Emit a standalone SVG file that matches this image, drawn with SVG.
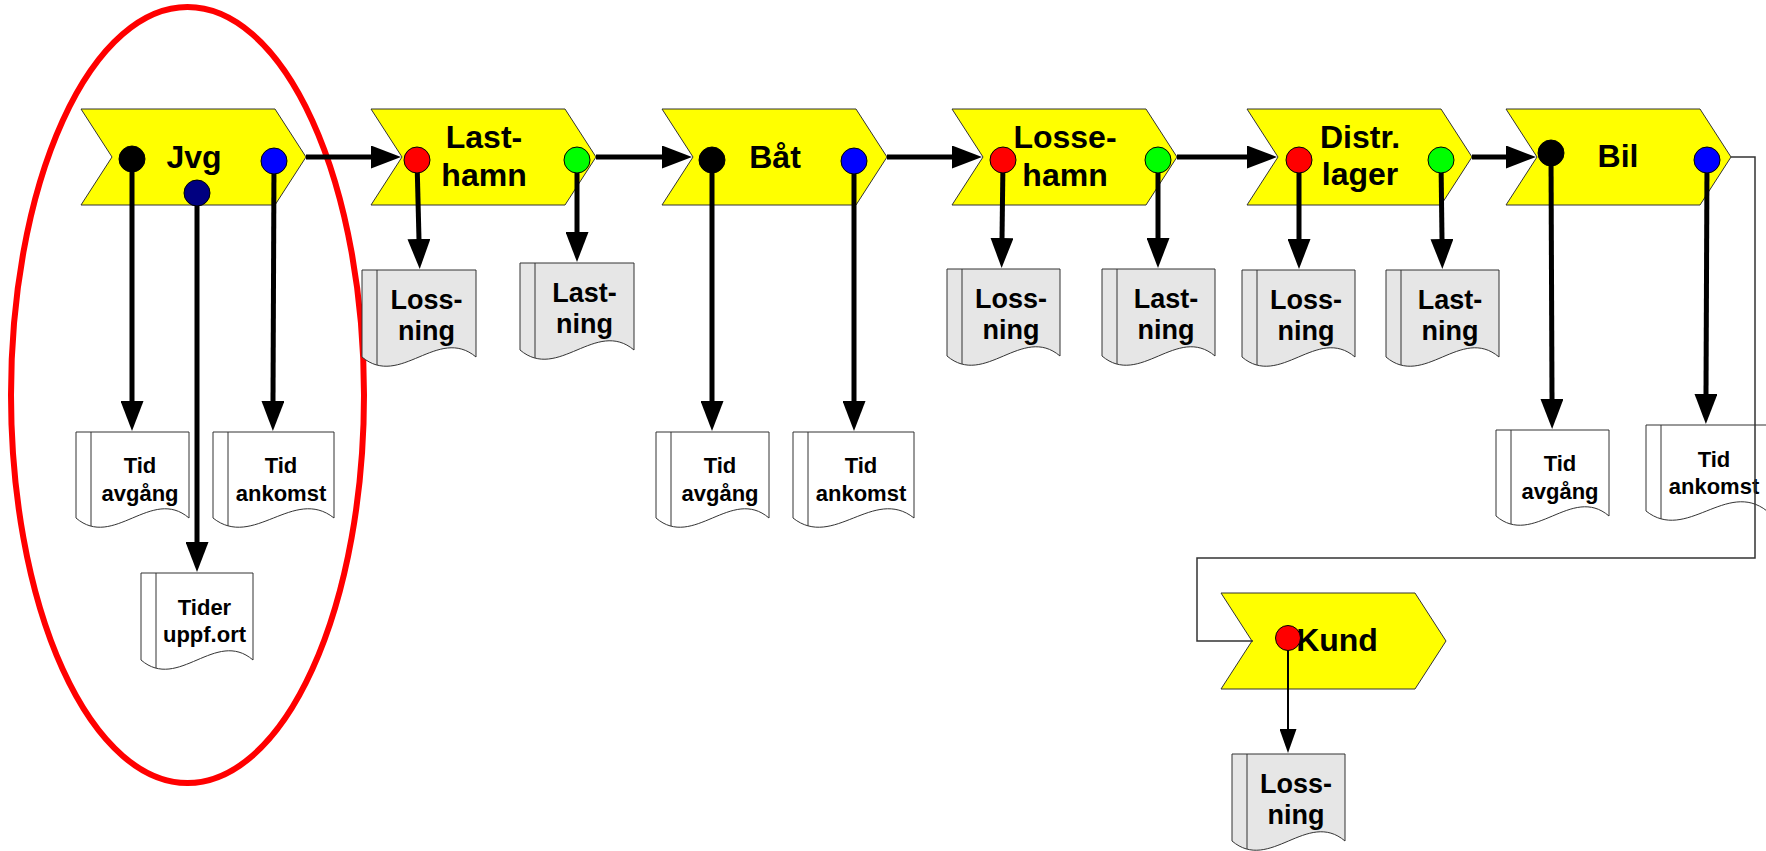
<svg xmlns="http://www.w3.org/2000/svg" width="1766" height="851" viewBox="0 0 1766 851">
<style>
.chev{fill:#ffff00;stroke:#333;stroke-width:1}
.doc{fill:#fff;stroke:#333;stroke-width:1}
.gdoc{fill:#e6e6e6;stroke:#333;stroke-width:1}
.strip{fill:none;stroke:#333;stroke-width:1}
.ct{font-family:"Liberation Sans",Arial,sans-serif;font-weight:bold;font-size:32px;text-anchor:middle;fill:#000}
.tt{font-family:"Liberation Sans",Arial,sans-serif;font-weight:bold;font-size:22px;text-anchor:middle;fill:#000}
.gt{font-family:"Liberation Sans",Arial,sans-serif;font-weight:bold;font-size:27px;text-anchor:middle;fill:#000}
.arr{fill:none;stroke:#000;stroke-width:5;marker-end:url(#ah)}
.arr2{fill:none;stroke:#000;stroke-width:2;marker-end:url(#ah2)}
.thin{fill:none;stroke:#333;stroke-width:1.5}
.ev{stroke:#000;stroke-width:1}
</style>
<defs>
<polygon id="chev" points="0,0 194,0 225,48 194,96 0,96 31,48"/>
<marker id="ah" markerUnits="userSpaceOnUse" markerWidth="30" markerHeight="23" refX="1" refY="11.5" orient="auto" viewBox="0 0 30 23">
<path d="M0,0 L30,11.5 L0,23 Z" fill="#000"/>
</marker>
<marker id="ah2" markerUnits="userSpaceOnUse" markerWidth="24" markerHeight="17" refX="1" refY="8.5" orient="auto" viewBox="0 0 24 17">
<path d="M0,0 L24,8.5 L0,17 Z" fill="#000"/>
</marker>
</defs>
<rect width="1766" height="851" fill="#fff"/>

<ellipse id="highlight" cx="187.5" cy="395" rx="176.5" ry="388" fill="none" stroke="#ff0000" stroke-width="6"/>

<g id="jvg"><use href="#chev" x="81" y="109" class="chev"/><text class="ct" x="194" y="168">Jvg</text></g>
<g id="lasthamn"><use href="#chev" x="371" y="109" class="chev"/><text class="ct" x="484" y="148">Last-</text><text class="ct" x="484" y="186">hamn</text></g>
<g id="bat"><use href="#chev" x="662" y="109" class="chev"/><text class="ct" x="775" y="168">Båt</text></g>
<g id="lossehamn"><use href="#chev" x="952" y="109" class="chev"/><text class="ct" x="1065" y="148">Losse-</text><text class="ct" x="1065" y="186">hamn</text></g>
<g id="distrlager"><use href="#chev" x="1247" y="109" class="chev"/><text class="ct" x="1360" y="148">Distr.</text><text class="ct" x="1360" y="185">lager</text></g>
<g id="bil"><use href="#chev" x="1506" y="109" class="chev"/><text class="ct" x="1618" y="167">Bil</text></g>
<g id="kund"><use href="#chev" x="1221" y="593" class="chev"/><text class="ct" x="1337" y="651">Kund</text></g>

<g id="doc-jvg-avgang"><path class="doc" d="M76,432 H189 V518 C151.7,486 113.3,550 76,518 Z"/><path class="strip" d="M91,432 V526"/><text class="tt" x="140" y="473">Tid</text><text class="tt" x="140" y="501">avgång</text></g>
<g id="doc-jvg-ankomst"><path class="doc" d="M213,432 H334 V518 C293.7,486 253.3,550 213,518 Z"/><path class="strip" d="M228,432 V526"/><text class="tt" x="281" y="473">Tid</text><text class="tt" x="281" y="501">ankomst</text></g>
<g id="doc-jvg-uppfort"><path class="doc" d="M141,573 H253 V660 C215.7,628 178.3,692 141,660 Z"/><path class="strip" d="M156,573 V668"/><text class="tt" x="204.5" y="615">Tider</text><text class="tt" x="204.5" y="642">uppf.ort</text></g>
<g id="doc-lasthamn-lossning"><path class="gdoc" d="M362,270 H476 V357 C438,325 400,389 362,357 Z"/><path class="strip" d="M377,270 V365"/><text class="gt" x="426.5" y="309">Loss-</text><text class="gt" x="426.5" y="340">ning</text></g>
<g id="doc-lasthamn-lastning"><path class="gdoc" d="M520,263 H634 V350 C596,318 558,382 520,350 Z"/><path class="strip" d="M535,263 V358"/><text class="gt" x="584.5" y="302">Last-</text><text class="gt" x="584.5" y="333">ning</text></g>
<g id="doc-bat-avgang"><path class="doc" d="M656,432 H769 V518 C731.7,486 693.3,550 656,518 Z"/><path class="strip" d="M671,432 V526"/><text class="tt" x="720" y="473">Tid</text><text class="tt" x="720" y="501">avgång</text></g>
<g id="doc-bat-ankomst"><path class="doc" d="M793,432 H914 V518 C873.7,486 833.3,550 793,518 Z"/><path class="strip" d="M808,432 V526"/><text class="tt" x="861" y="473">Tid</text><text class="tt" x="861" y="501">ankomst</text></g>
<g id="doc-losse-lossning"><path class="gdoc" d="M947,269 H1060 V356 C1022.3,324 984.7,388 947,356 Z"/><path class="strip" d="M962,269 V364"/><text class="gt" x="1011" y="308">Loss-</text><text class="gt" x="1011" y="339">ning</text></g>
<g id="doc-losse-lastning"><path class="gdoc" d="M1102,269 H1215 V356 C1177.3,324 1139.7,388 1102,356 Z"/><path class="strip" d="M1117,269 V364"/><text class="gt" x="1166" y="308">Last-</text><text class="gt" x="1166" y="339">ning</text></g>
<g id="doc-distr-lossning"><path class="gdoc" d="M1242,270 H1355 V357 C1317.3,325 1279.7,389 1242,357 Z"/><path class="strip" d="M1257,270 V365"/><text class="gt" x="1306" y="309">Loss-</text><text class="gt" x="1306" y="340">ning</text></g>
<g id="doc-distr-lastning"><path class="gdoc" d="M1386,270 H1499 V357 C1461.3,325 1423.7,389 1386,357 Z"/><path class="strip" d="M1401,270 V365"/><text class="gt" x="1450" y="309">Last-</text><text class="gt" x="1450" y="340">ning</text></g>
<g id="doc-bil-avgang"><path class="doc" d="M1496,430 H1609 V516 C1571.7,484 1533.3,548 1496,516 Z"/><path class="strip" d="M1511,430 V524"/><text class="tt" x="1560" y="471">Tid</text><text class="tt" x="1560" y="499">avgång</text></g>
<g id="doc-bil-ankomst"><path class="doc" d="M1646,425 H1767 V511 C1726.7,479 1686.3,543 1646,511 Z"/><path class="strip" d="M1661,425 V519"/><text class="tt" x="1714" y="467">Tid</text><text class="tt" x="1714" y="494">ankomst</text></g>
<g id="doc-kund-lossning"><path class="gdoc" d="M1232,754 H1345 V841 C1307.3,809 1269.7,873 1232,841 Z"/><path class="strip" d="M1247,754 V849"/><text class="gt" x="1296" y="793">Loss-</text><text class="gt" x="1296" y="824">ning</text></g>

<g id="connectors">
<path class="arr" d="M306,157 H372"/>
<path class="arr" d="M596,157 H663"/>
<path class="arr" d="M887,157 H953"/>
<path class="arr" d="M1177,157 H1248"/>
<path class="arr" d="M1472,157 H1507"/>
<path class="arr" d="M132,159 V402"/>
<path class="arr" d="M197,193 V543"/>
<path class="arr" d="M274,161 L273,402"/>
<path class="arr" d="M417,160 L419,240"/>
<path class="arr" d="M577,160 V233"/>
<path class="arr" d="M712,160 V402"/>
<path class="arr" d="M854,161 V402"/>
<path class="arr" d="M1003,160 L1002,239"/>
<path class="arr" d="M1158,160 V239"/>
<path class="arr" d="M1299,160 V240"/>
<path class="arr" d="M1441,160 L1442,240"/>
<path class="arr" d="M1551,153 L1552,400"/>
<path class="arr" d="M1707,160 L1706,395"/>
<path class="arr2" d="M1288,638 V730"/>
<path class="thin" d="M1731,157 H1755 V558 H1197 V641 H1253"/>
</g>

<g id="ev-jvg-start"><circle class="ev" cx="132" cy="159" r="13" fill="#000"/></g>
<g id="ev-jvg-mid"><circle class="ev" cx="197" cy="193" r="13" fill="#000080"/></g>
<g id="ev-jvg-end"><circle class="ev" cx="274" cy="161" r="13" fill="#0000ff"/></g>
<g id="ev-lasthamn-in"><circle class="ev" cx="417" cy="160" r="13" fill="#ff0000"/></g>
<g id="ev-lasthamn-out"><circle class="ev" cx="577" cy="160" r="13" fill="#00ff00"/></g>
<g id="ev-bat-start"><circle class="ev" cx="712" cy="160" r="13" fill="#000"/></g>
<g id="ev-bat-end"><circle class="ev" cx="854" cy="161" r="13" fill="#0000ff"/></g>
<g id="ev-losse-in"><circle class="ev" cx="1003" cy="160" r="13" fill="#ff0000"/></g>
<g id="ev-losse-out"><circle class="ev" cx="1158" cy="160" r="13" fill="#00ff00"/></g>
<g id="ev-distr-in"><circle class="ev" cx="1299" cy="160" r="13" fill="#ff0000"/></g>
<g id="ev-distr-out"><circle class="ev" cx="1441" cy="160" r="13" fill="#00ff00"/></g>
<g id="ev-bil-start"><circle class="ev" cx="1551" cy="153" r="13" fill="#000"/></g>
<g id="ev-bil-end"><circle class="ev" cx="1707" cy="160" r="13" fill="#0000ff"/></g>
<g id="ev-kund-in"><circle class="ev" cx="1288" cy="638" r="12.5" fill="#ff0000"/></g>
</svg>
